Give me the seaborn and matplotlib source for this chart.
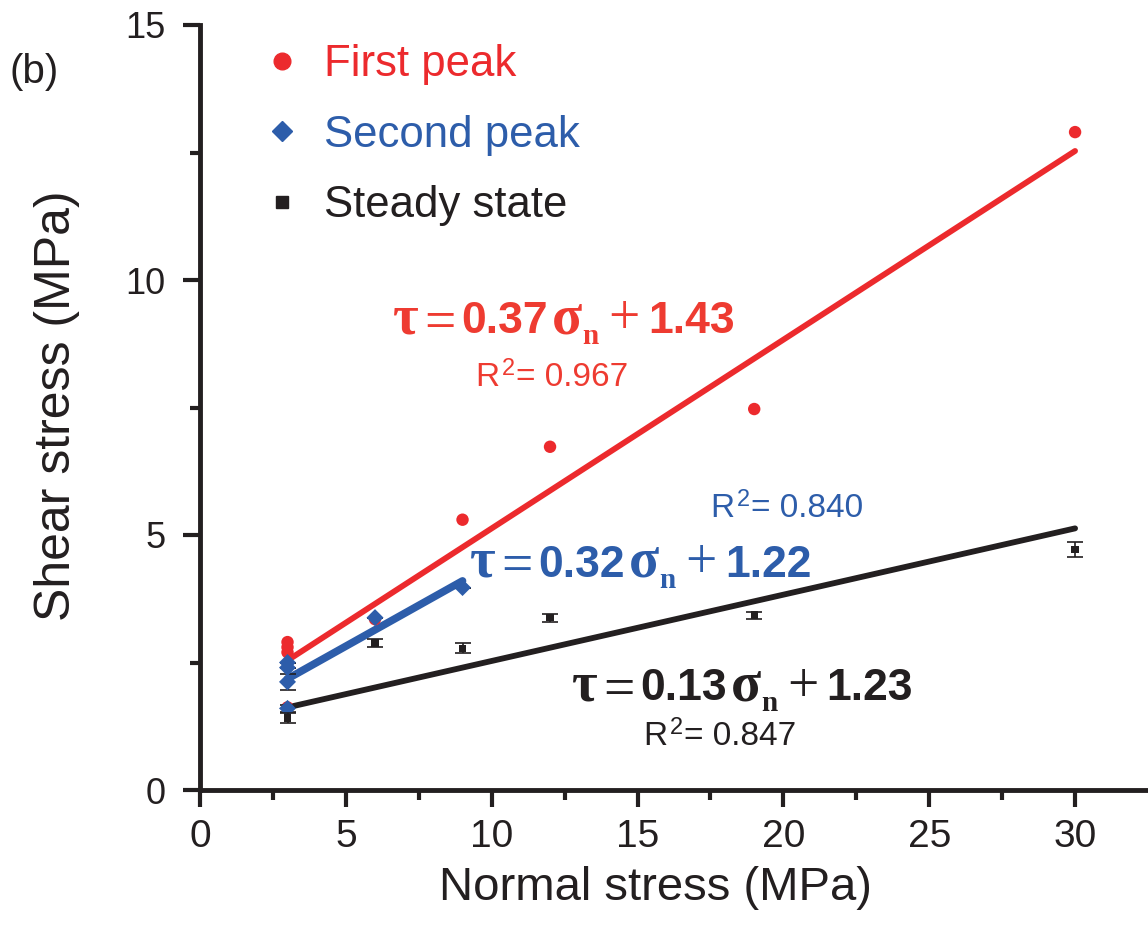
import numpy as np
import pandas as pd
import matplotlib.pyplot as plt
import seaborn as sns
from matplotlib.lines import Line2D

# values
first_x = [3, 3, 3, 3, 6, 9, 12, 19, 30]
first_y = [2.9, 2.8, 2.7, 1.62, 3.35, 5.3, 6.73, 7.47, 12.9]

second_x = [3, 3, 3, 3, 6, 9]
second_y = [2.5, 2.4, 2.12, 1.6, 3.38, 3.97]
second_err = [0.0, 0.0, 0.15, 0.07, 0.0, 0.0]

steady_x = [3, 6, 9, 12, 19, 30]
steady_y = [1.41, 2.88, 2.78, 3.38, 3.43, 4.72]
steady_err = [0.1, 0.08, 0.1, 0.08, 0.07, 0.15]

# linear fits: tau = slope * sigma_n + intercept
series_names = ["First peak", "Second peak", "Steady state"]
fit_slope = ["0.37", "0.32", "0.13"]
fit_icpt = ["1.43", "1.22", "1.23"]
fit_r2 = ["0.967", "0.840", "0.847"]
fit_start = [3, 3, 3]
fit_end = [30, 9, 30]

RED = "#EC2A2D"
RED_TXT = "#EE3B31"
BLUE = "#2D5DAA"
BLACK = "#231F20"

sns.set_style("ticks")
plt.rcParams["font.family"] = ["Liberation Sans", "DejaVu Sans"]

fig = plt.figure(figsize=(11.48, 9.26), dpi=100)
ax = fig.add_axes([200 / 1148, 136 / 926, 948 / 1148, 765 / 926])

# fit lines
for slope, icpt, x0, x1, col, lw in zip(fit_slope, fit_icpt, fit_start, fit_end,
                                         [RED, BLUE, BLACK], [4.2, 5.5, 4.2]):
    xs = np.array([x0, x1], dtype=float)
    ys = float(slope) * xs + float(icpt)
    sns.lineplot(x=xs, y=ys, color=col, linewidth=lw, ax=ax,
                 solid_capstyle="round", zorder=2, legend=False)

# data points
df_first = pd.DataFrame({"x": first_x, "y": first_y})
df_second = pd.DataFrame({"x": second_x, "y": second_y})
df_steady = pd.DataFrame({"x": steady_x, "y": steady_y})

sns.scatterplot(data=df_first, x="x", y="y", marker="o", s=80, color=RED,
                edgecolor="none", ax=ax, zorder=3, legend=False)
ax.errorbar(second_x, second_y, yerr=second_err, fmt="none", ecolor=BLACK,
            elinewidth=1.2, capsize=6, capthick=1.2, zorder=3)
sns.scatterplot(data=df_second, x="x", y="y", marker="D", s=75, color=BLUE,
                edgecolor="none", ax=ax, zorder=4, legend=False)
ax.errorbar(steady_x, steady_y, yerr=steady_err, fmt="none", ecolor=BLACK,
            elinewidth=1.2, capsize=6, capthick=1.2, zorder=4)
sns.scatterplot(data=df_steady, x="x", y="y", marker="s", s=28, color=BLACK,
                edgecolor="none", ax=ax, zorder=5, legend=False)

# axes
ax.set_xlim(0, 32.5)
ax.set_ylim(0, 15)
ax.set_xticks(np.arange(0, 31, 5))
ax.set_xticks(np.arange(2.5, 31, 5), minor=True)
ax.set_yticks([0, 5, 10, 15])
ax.set_yticks([2.5, 7.5, 12.5], minor=True)
sns.despine(ax=ax)
for side in ["left", "bottom"]:
    ax.spines[side].set_linewidth(3.5)
    ax.spines[side].set_color(BLACK)
ax.tick_params(which="major", length=12, width=3, color=BLACK, labelcolor=BLACK)
ax.tick_params(which="minor", length=7, width=3, color=BLACK)
ax.tick_params(axis="x", pad=9, labelsize=28)
ax.tick_params(axis="y", pad=13, labelsize=26)
ax.set_xlabel("Normal stress (MPa)", fontsize=34, color=BLACK)
ax.set_ylabel("Shear stress (MPa)", fontsize=36, color=BLACK)
ax.xaxis.set_label_coords(0.48, -0.128)
ax.yaxis.set_label_coords(-0.151, 0.502)
ax.xaxis.label.set_va("center")
ax.yaxis.label.set_va("center")

fig.text(10 / 1148, 1 - 83 / 926, "(b)", fontsize=29, color=BLACK)

# legend
handles = [
    Line2D([], [], marker="o", linestyle="none", color=RED, markersize=12),
    Line2D([], [], marker="D", linestyle="none", color=BLUE, markersize=10),
    Line2D([], [], marker="s", linestyle="none", color=BLACK, markersize=9),
]
ax.legend(handles, series_names, loc="upper left",
          bbox_to_anchor=(261 / 1148, 1 - 44 / 926), bbox_transform=fig.transFigure,
          frameon=False, fontsize=31.5, handlelength=0.95, handletextpad=0.5,
          labelspacing=0.68, borderpad=0, borderaxespad=0,
          labelcolor=[RED, BLUE, BLACK])


def chain_text(x, y, parts, color):
    """Write a row of text pieces, each one after the previous one."""
    prev = None
    for txt, fam, wt, size, dx, dy in parts:
        kw = dict(color=color, fontfamily=fam, fontweight=wt, fontsize=size,
                  ha="left", va="baseline", clip_on=False)
        if prev is None:
            prev = ax.text(x, y, txt, **kw)
        else:
            prev = ax.annotate(txt, xy=(1, y), xycoords=(prev, "data"),
                               xytext=(dx, dy), textcoords="offset points", **kw)
    return prev


def equation(x, y, slope, icpt, color):
    serif = ["Liberation Serif", "DejaVu Serif"]
    sans = ["Liberation Sans", "DejaVu Sans"]
    parts = [
        ("τ", serif, "bold", 40, 0, 0),
        ("=", serif, "normal", 40, 4, -4),
        (slope, sans, "bold", 32, 4, 0),
        ("σ", serif, "bold", 40, 3, 0),
        ("n", serif, "bold", 21, 0, -8),
        ("+", serif, "normal", 40, 7, -1),
        (icpt, sans, "bold", 32, 6, 0),
    ]
    chain_text(x, y, parts, color)


def r2_label(x, y, r2, color):
    sans = ["Liberation Sans", "DejaVu Sans"]
    parts = [
        ("R", sans, "normal", 24, 0, 0),
        ("2", sans, "normal", 17, 2, 8),
        ("= " + r2, sans, "normal", 24, 1, 0),
    ]
    chain_text(x, y, parts, color)


eq_pos = [(6.62, 8.96), (9.26, 4.18), (12.75, 1.76)]
r2_pos = [(9.43, 7.92), (17.48, 5.35), (15.19, 0.88)]
eq_cols = [RED_TXT, BLUE, BLACK]
for (ex, ey), (rx, ry), slope, icpt, r2, col in zip(eq_pos, r2_pos, fit_slope,
                                                    fit_icpt, fit_r2, eq_cols):
    equation(ex, ey, slope, icpt, col)
    r2_label(rx, ry, r2, col)

fig.savefig("out.png", dpi=100)
